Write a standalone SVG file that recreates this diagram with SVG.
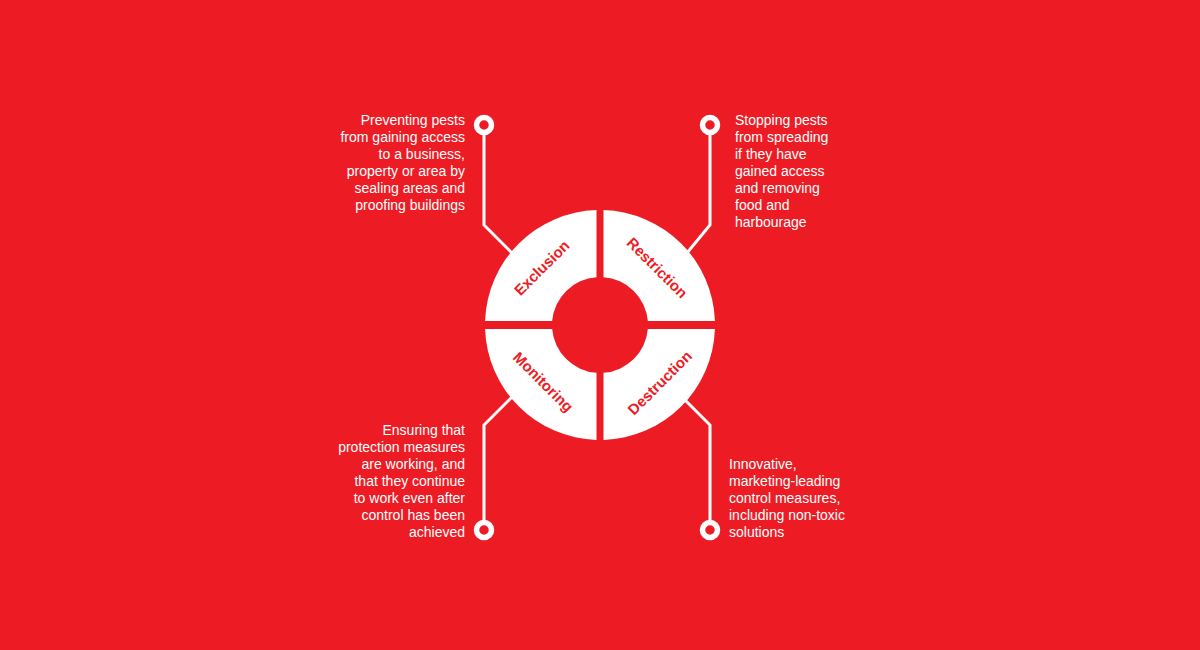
<svg xmlns="http://www.w3.org/2000/svg" width="1200" height="650" viewBox="0 0 1200 650">
<style>
.bg{fill:#ED1C24}
.seg{fill:#FFFFFF}
.lbl{font-family:"Liberation Sans",Arial,sans-serif;font-size:15px;font-weight:bold;fill:#ED1C24;text-anchor:middle}
.desc{font-family:"Liberation Sans",Arial,sans-serif;font-size:14px;fill:#FFFFFF}
.r{text-anchor:end}
.l{text-anchor:start}
.line{fill:none;stroke:#FFFFFF;stroke-width:3;stroke-linejoin:miter}
.dot{fill:#ED1C24;stroke:#FFFFFF;stroke-width:5.5}
</style>
<rect class="bg" x="0" y="0" width="1200" height="650"/>
<g id="connectors">
<polyline class="line" points="484,132 484,225 518,259"/>
<polyline class="line" points="710,132 710,225 682,259"/>
<polyline class="line" points="484,523 484,425 518,391"/>
<polyline class="line" points="710,523 710,425 682,397"/>
<circle class="dot" cx="484" cy="125" r="7.5"/>
<circle class="dot" cx="710" cy="125" r="7.5"/>
<circle class="dot" cx="484" cy="530" r="7.5"/>
<circle class="dot" cx="710" cy="530" r="7.5"/>
</g>
<g id="exclusion">
<path class="seg" d="M596.5,210.05 A115,115 0 0 0 485.07,321 L552.17,321 A48,48 0 0 1 596.5,277.13 Z"/>
<text class="lbl" transform="translate(542,268) rotate(-45)" y="5">Exclusion</text>
<text class="desc r" x="465" y="125">Preventing pests</text>
<text class="desc r" x="465" y="142">from gaining access</text>
<text class="desc r" x="465" y="159">to a business,</text>
<text class="desc r" x="465" y="176">property or area by</text>
<text class="desc r" x="465" y="193">sealing areas and</text>
<text class="desc r" x="465" y="210">proofing buildings</text>
</g>
<g id="restriction">
<path class="seg" d="M603.5,210.05 A115,115 0 0 1 714.93,321 L647.83,321 A48,48 0 0 0 603.5,277.13 Z"/>
<text class="lbl" transform="translate(657,268) rotate(45)" y="5">Restriction</text>
<text class="desc l" x="735" y="125">Stopping pests</text>
<text class="desc l" x="735" y="142">from spreading</text>
<text class="desc l" x="735" y="159">if they have</text>
<text class="desc l" x="735" y="176">gained access</text>
<text class="desc l" x="735" y="193">and removing</text>
<text class="desc l" x="735" y="210">food and</text>
<text class="desc l" x="735" y="227">harbourage</text>
</g>
<g id="monitoring">
<path class="seg" d="M596.5,439.95 A115,115 0 0 1 485.07,329 L552.17,329 A48,48 0 0 0 596.5,372.87 Z"/>
<text class="lbl" transform="translate(543,382) rotate(45)" y="5">Monitoring</text>
<text class="desc r" x="465" y="435">Ensuring that</text>
<text class="desc r" x="465" y="452">protection measures</text>
<text class="desc r" x="465" y="469">are working, and</text>
<text class="desc r" x="465" y="486">that they continue</text>
<text class="desc r" x="465" y="503">to work even after</text>
<text class="desc r" x="465" y="520">control has been</text>
<text class="desc r" x="465" y="537">achieved</text>
</g>
<g id="destruction">
<path class="seg" d="M603.5,439.95 A115,115 0 0 0 714.93,329 L647.83,329 A48,48 0 0 1 603.5,372.87 Z"/>
<text class="lbl" transform="translate(660,383) rotate(-45)" y="5">Destruction</text>
<text class="desc l" x="729" y="468.5">Innovative,</text>
<text class="desc l" x="729" y="485.5">marketing-leading</text>
<text class="desc l" x="729" y="502.5">control measures,</text>
<text class="desc l" x="729" y="519.5">including non-toxic</text>
<text class="desc l" x="729" y="536.5">solutions</text>
</g>
</svg>
